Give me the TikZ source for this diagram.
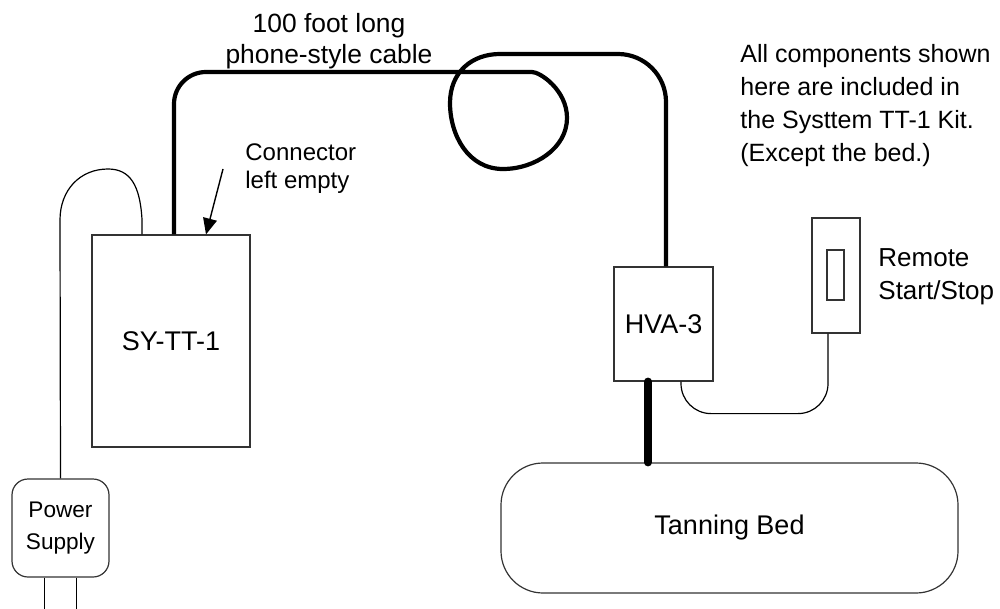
\documentclass[tikz,border=0pt]{standalone}
\usepackage{fontspec}
\setmainfont{Liberation Sans}
\usepackage{tikz}
\usetikzlibrary{positioning,arrows.meta,calc}
\tikzset{
  base/.style={draw=black!80,line width=0.6pt,inner sep=0pt,align=center,font=\fontsize{13.5}{16.5}\selectfont},
  unit/.style={base,rectangle},
  soft/.style={base,rounded corners=8pt},
  lbl/.style={inner sep=0pt,font=\fontsize{12.5}{16.5}\selectfont},
  wire/.style={line width=0.6pt},
  cable/.style={line width=2.1pt},
  heavy/.style={line width=4pt,line cap=round},
  arr/.style={-{Triangle[length=8pt,width=7pt]},line width=0.7pt}}
\begin{document}
\begin{tikzpicture}[x=0.5pt,y=-0.5pt]
\useasboundingbox (0,0) rectangle (1000,609);
% boxes
\node[unit,minimum width=79pt,minimum height=106pt] (sy) at (171,341) {SY-TT-1};
\node[unit,minimum width=49.5pt,minimum height=57pt] (hva) at (663.5,324) {HVA-3};
\node[unit,minimum width=24pt,minimum height=57.5pt] (remote) at (836,275.5) {};
\node[unit,minimum width=8.5pt,minimum height=25pt] (button) at (835.5,275) {};
\node[soft,rounded corners=21pt,minimum width=228.5pt,minimum height=65pt] (bed) at (729.5,528) {Tanning Bed};
\node[soft,minimum width=48.5pt,minimum height=49pt,font=\fontsize{11.3}{16}\selectfont] (psu) at (60.5,528) {Power\\Supply};
% labels
\node[lbl,align=center,font=\fontsize{13.2}{15.5}\selectfont] (cablelbl) at (329,41) {100 foot long\\phone-style cable};
\node[lbl,align=left,anchor=west] (note) at (740,106) {All components shown\\here are included in\\the Systtem TT-1 Kit.\\(Except the bed.)};
\node[lbl,align=left,anchor=west,font=\fontsize{12}{14}\selectfont] (conlbl) at (245,169) {Connector\\left empty};
\node[lbl,align=left,anchor=west,font=\fontsize{13}{16.5}\selectfont] (remlbl) at (878,277) {Remote\\Start/Stop};
\coordinate (arrstart) at (223,169);
\coordinate (loopin) at (500,72);
\coordinate (loopout) at (500,54);
% cable from SY-TT-1 to HVA-3, with a loop
\draw[cable,rounded corners=16pt] ([xshift=1.5pt]sy.north) |- (loopin)
  [sharp corners] .. controls (540,72) and (567,90) .. (567,118)
  .. controls (567,148) and (535,169) .. (503,169)
  .. controls (468,169) and (450,135) .. (450,103)
  .. controls (450,72) and (472,54) .. (loopout)
  [rounded corners=24pt] -| ([xshift=1.25pt]hva.north);
\draw[arr] (arrstart) -- ([xshift=17.5pt]sy.north);
% power supply lead
\draw[wire] ([xshift=-14.5pt]sy.north) -- ++(0,-15)
  .. controls (140,185) and (130,169) .. (108,169)
  .. controls (80,169) and (60,190) .. (60,220) -- (psu.north);
\draw[wire] ([xshift=-8pt]psu.south) -- ++(0,40);
\draw[wire] ([xshift=8pt]psu.south) -- ++(0,40);
% HVA-3 to bed and remote
\draw[heavy] ([xshift=-7.75pt]hva.south) -- ([xshift=-7.75pt]hva.south |- bed.north);
\draw[wire,rounded corners=15pt] ([xshift=-4pt]remote.south) -- ++(0,80) -| ([xshift=8.75pt]hva.south);
\end{tikzpicture}
\end{document}
